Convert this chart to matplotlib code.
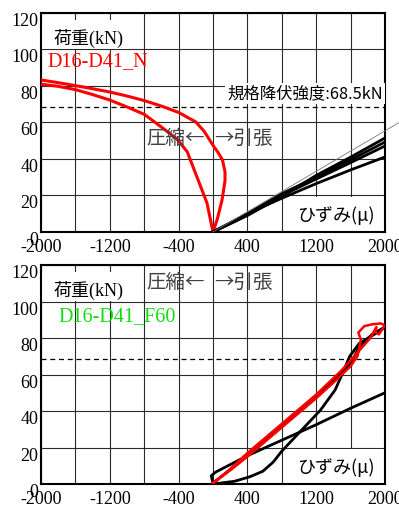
import numpy as np
import matplotlib.pyplot as plt
from matplotlib.patches import Rectangle

# --- data ---
x_ticks = [-2000, -1600, -1200, -800, -400, 0, 400, 800, 1200, 1600, 2000]
x_labels = ['-2000', '', '-1200', '', '-400', '', '400', '', '1200', '', '2000']
y_ticks = [0, 20, 40, 60, 80, 100, 120]
yield_load = 68.5

# top panel: D16-D41_N, compression side (red), tension gauges (black)
n_red_x = [0, -70, -186, -300, -420, -600, -800, -1000, -1200, -1400, -1600, -1800, -2000, -2050,
           -2050, -2000, -1800, -1600, -1400, -1200, -1000, -800, -600, -400, -200, -100, 0,
           60, 110, 140, 140, 105, 50, 0]
n_red_y = [0, 15.9, 30.1, 44, 51, 57.5, 64.5, 68.5, 72.3, 75.3, 78, 79.8, 81, 81.2,
           83.5, 83.3, 81.8, 80.2, 78.5, 76.7, 74.5, 72, 69, 65.5, 60.3, 55, 47.5,
           43.5, 39.5, 33, 28, 17.5, 7, 0]
n_blk_x = [0, 400, 800, 1200, 1600, 2000]
n_blk_y1 = [0, 9, 19.5, 31, 41, 51.5]
n_blk_y2 = [0, 10, 21, 30, 39.5, 49.3]
n_blk_y3 = [0, 9.5, 20, 29, 38, 47.1]
n_blk_y4 = [0, 10, 18.5, 26.5, 34, 41.1]
ref_slope = 0.0277

# bottom panel: D16-D41_F60
f_red_x = [0, 200, 400, 600, 800, 1000, 1200, 1400, 1600, 1680, 1720, 1690, 1760, 1850, 1950, 2000,
           1930, 1890, 1900, 1830, 1700, 1500, 1200, 800, 400, 150, 0]
f_red_y = [0.5, 7.5, 15, 23, 31, 39, 47, 55.5, 64.5, 70, 79, 83, 86.5, 87.5, 88, 87,
           82, 83, 86, 80, 73, 62.5, 49, 33, 17, 6, 0.5]
f_b1_x = [0, -20, 30, 400, 800, 1200, 1600, 2000]
f_b1_y = [0.5, 4.5, 6.5, 15.5, 24, 32.5, 41.5, 50]
f_b2_x = [0, 250, 430, 580, 700, 800, 1000, 1250, 1420, 1510, 1590, 1700, 1900, 2000]
f_b2_y = [0, 1.5, 4, 7, 12, 18, 28, 40.5, 51.5, 61, 70, 77, 82.7, 86]
f_b3_x = [0, 400, 800, 1200, 1600, 1700, 1850, 2000]
f_b3_y = [0.5, 15.5, 31.5, 47.5, 66, 75, 82, 86]

SERIF = 'Liberation Serif'
JP = 'Noto Sans CJK JP'
MIX = [SERIF, JP]

fig = plt.figure(figsize=(3.99, 5.11), dpi=100)
ax_top = fig.add_axes([0.1028, 0.546, 0.862, 0.4286])
ax_bot = fig.add_axes([0.1028, 0.0528, 0.862, 0.4286])


def setup(ax):
    ax.set_xlim(-2000, 2000)
    ax.set_ylim(0, 120)
    ax.set_xticks(x_ticks)
    ax.set_xticklabels(x_labels, family=SERIF, fontsize=13)
    ax.set_yticks(y_ticks)
    ax.set_yticklabels([str(v) for v in y_ticks], family=SERIF, fontsize=13)
    for lab in ax.get_yticklabels():
        lab.set_va('top')
    ax.tick_params(axis='x', length=0, pad=5)
    ax.tick_params(axis='y', length=0, pad=2)
    ax.grid(True, color='#2a2a2a', lw=0.8)
    ax.set_axisbelow(True)
    for s in ax.spines.values():
        s.set_linewidth(1.5)
        s.set_color('black')
    ax.axhline(yield_load, color='black', lw=0.9, ls=(0, (4, 3)), zorder=2)
    # white patches behind the labels
    ax.add_patch(Rectangle((-2000, 100.4), 1000, 16, facecolor='white', edgecolor='none', zorder=1.5))
    ax.add_patch(Rectangle((870, 0.4), 1130, 18.9, facecolor='white', edgecolor='none', zorder=1.5))
    ax.text(-1850, 105.8, '荷重(kN)', family=MIX, fontsize=13, va='center', zorder=4)
    ax.text(1880, 8.8, 'ひずみ(μ)', family=[JP, SERIF], fontsize=13, ha='right', va='center', zorder=4)


setup(ax_top)
setup(ax_bot)

# top panel
ax_top.plot(n_red_x, n_red_y, color='red', lw=2.2, zorder=3)
for yy in (n_blk_y1, n_blk_y2, n_blk_y3, n_blk_y4):
    ax_top.plot(n_blk_x, yy, color='black', lw=2.0, zorder=3)
ax_top.plot([0, 2165], [0, 2165 * ref_slope], color='#777777', lw=0.6, clip_on=False, zorder=3)
ax_top.text(-1930, 93.4, 'D16-D41_N', family=SERIF, fontsize=14.5, color='red', va='center', zorder=4)
ax_top.text(-90, 51, '圧縮←', family=JP, fontsize=14, color='#404040', ha='right', va='center', zorder=4)
ax_top.text(10, 51, '→引張', family=JP, fontsize=14, color='#404040', ha='left', va='center', zorder=4)
ax_top.text(1975, 76, '規格降伏強度:68.5kN', family=JP, fontsize=11.8, ha='right', va='center', zorder=4,
            bbox=dict(facecolor='white', edgecolor='none', pad=1.5))

# bottom panel
ax_bot.plot(f_b1_x, f_b1_y, color='black', lw=2.0, zorder=3)
ax_bot.plot(f_b2_x, f_b2_y, color='black', lw=2.0, zorder=3)
ax_bot.plot(f_b3_x, f_b3_y, color='black', lw=2.0, zorder=3)
ax_bot.plot(f_red_x, f_red_y, color='red', lw=1.8, zorder=3.5)
ax_bot.text(-1800, 92, 'D16-D41_F60', family=SERIF, fontsize=14.5, color='#11dd11', va='center', zorder=4)
ax_bot.text(-90, 110.4, '圧縮←', family=JP, fontsize=14, color='#404040', ha='right', va='center', zorder=4)
ax_bot.text(10, 110.4, '→引張', family=JP, fontsize=14, color='#404040', ha='left', va='center', zorder=4)

fig.savefig('out.png', dpi=100)
